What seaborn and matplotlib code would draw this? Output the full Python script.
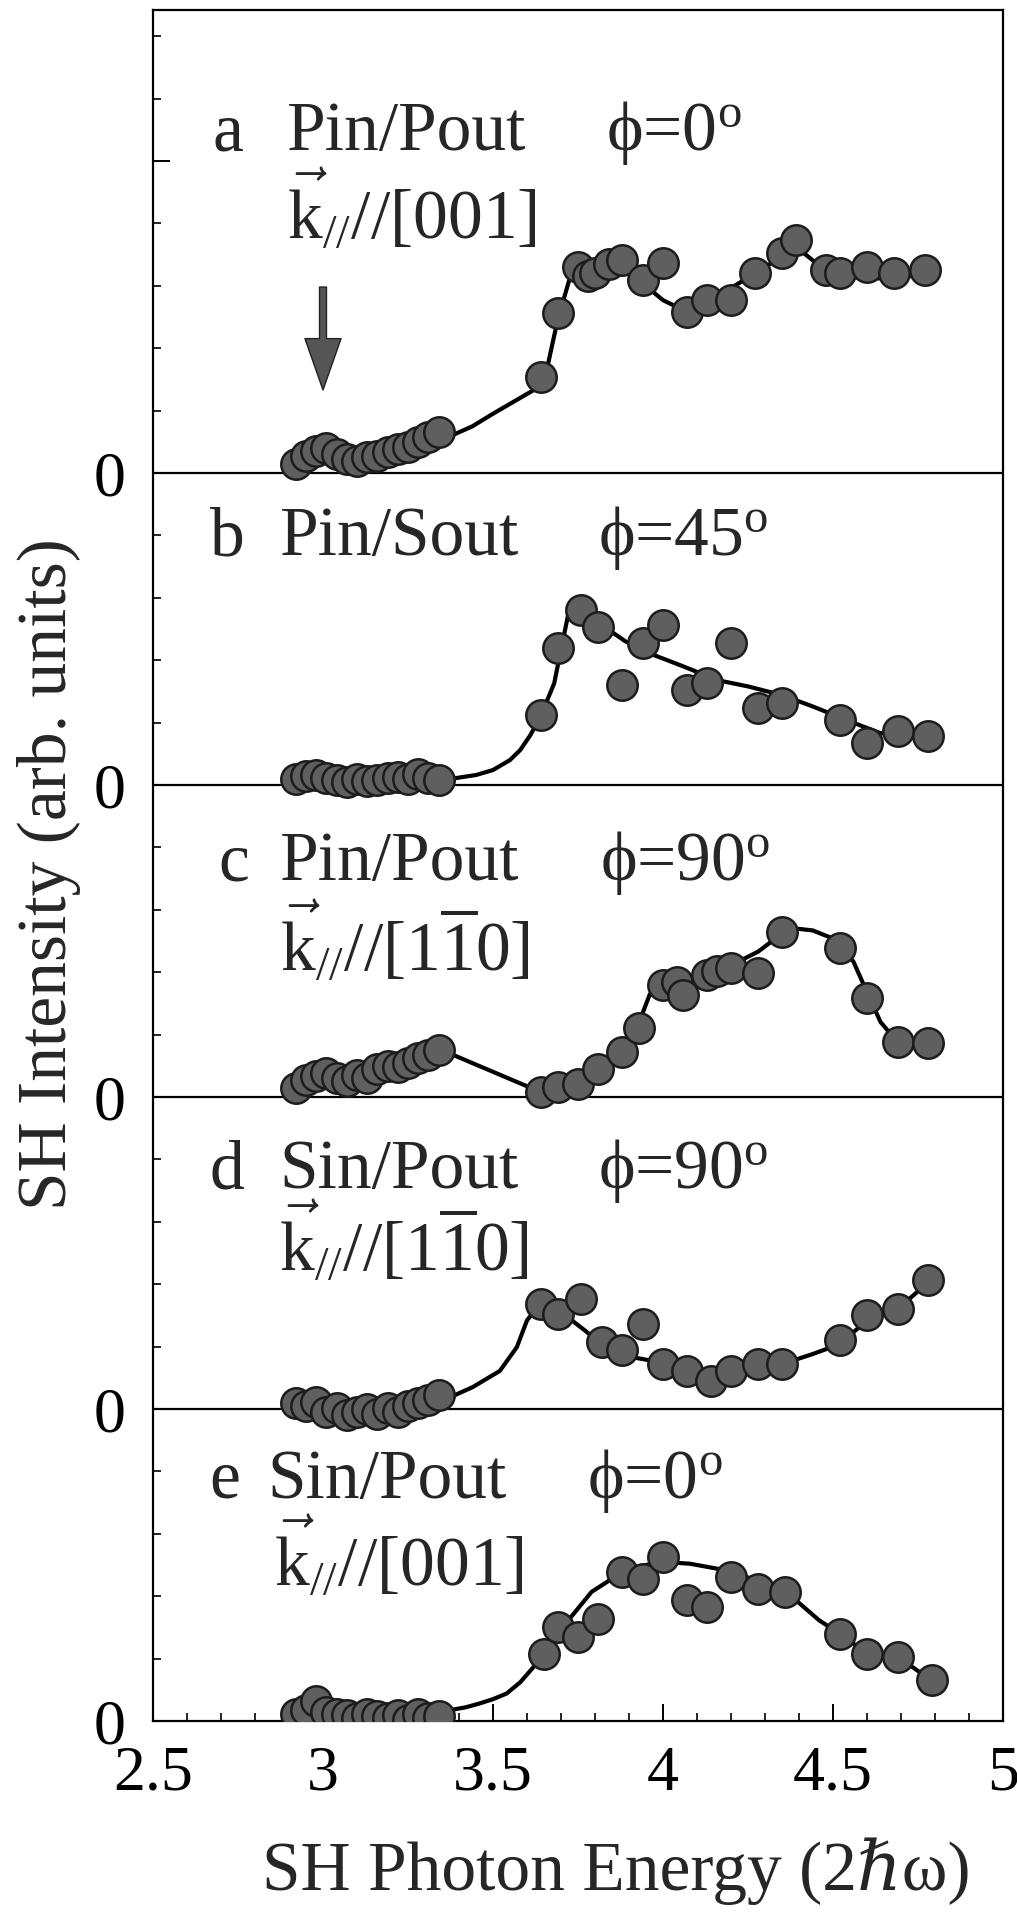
import numpy as np
import pandas as pd
import matplotlib
matplotlib.use("Agg")
import matplotlib.pyplot as plt
import seaborn as sns
from matplotlib.ticker import MultipleLocator, FixedLocator, FixedFormatter

# ---------------- data ----------------
x_low = [2.92, 2.95, 2.98, 3.01, 3.04, 3.07, 3.10, 3.13, 3.16, 3.19, 3.22, 3.25, 3.28, 3.31, 3.34]

a_low = [0.15, 0.28, 0.35, 0.40, 0.30, 0.22, 0.20, 0.25, 0.28, 0.33, 0.38, 0.42, 0.50, 0.58, 0.66]
b_low = [0.10, 0.14, 0.16, 0.12, 0.08, 0.05, 0.10, 0.06, 0.08, 0.11, 0.13, 0.10, 0.18, 0.12, 0.08]
c_low = [0.15, 0.28, 0.34, 0.38, 0.30, 0.26, 0.36, 0.30, 0.45, 0.50, 0.48, 0.55, 0.62, 0.68, 0.75]
d_low = [0.10, 0.05, 0.12, -0.05, 0.02, -0.10, -0.05, 0.00, -0.08, 0.02, -0.05, 0.05, 0.10, 0.15, 0.22]
e_low = [0.12, 0.18, 0.32, 0.15, 0.12, 0.10, 0.05, 0.12, 0.08, 0.05, 0.10, 0.02, 0.12, 0.05, 0.08]

a_hi_x = [3.64, 3.69, 3.75, 3.78, 3.80, 3.84, 3.88, 3.94, 4.00, 4.07, 4.13, 4.20, 4.27, 4.35, 4.39, 4.48, 4.52, 4.60, 4.68, 4.77]
a_hi_y = [1.54, 2.56, 3.30, 3.15, 3.20, 3.35, 3.41, 3.10, 3.36, 2.58, 2.77, 2.77, 3.20, 3.52, 3.73, 3.25, 3.20, 3.30, 3.20, 3.25]

b_hi_x = [3.64, 3.69, 3.76, 3.81, 3.88, 3.94, 4.00, 4.07, 4.13, 4.20, 4.28, 4.35, 4.52, 4.60, 4.69, 4.78]
b_hi_y = [1.12, 2.19, 2.81, 2.54, 1.60, 2.27, 2.57, 1.52, 1.63, 2.27, 1.23, 1.31, 1.04, 0.67, 0.86, 0.78]

c_hi_x = [3.64, 3.69, 3.75, 3.81, 3.88, 3.93, 4.00, 4.04, 4.06, 4.13, 4.16, 4.20, 4.28, 4.35, 4.52, 4.60, 4.69, 4.78]
c_hi_y = [0.08, 0.16, 0.21, 0.45, 0.72, 1.10, 1.79, 1.85, 1.63, 1.95, 2.02, 2.06, 1.98, 2.65, 2.38, 1.58, 0.88, 0.86]

d_hi_x = [3.64, 3.69, 3.76, 3.82, 3.88, 3.94, 4.00, 4.07, 4.14, 4.20, 4.28, 4.35, 4.52, 4.60, 4.69, 4.78]
d_hi_y = [1.68, 1.52, 1.76, 1.07, 0.94, 1.36, 0.72, 0.61, 0.45, 0.61, 0.72, 0.72, 1.10, 1.50, 1.60, 2.06]

e_hi_x = [3.65, 3.69, 3.75, 3.81, 3.88, 3.94, 4.00, 4.07, 4.13, 4.20, 4.28, 4.36, 4.52, 4.60, 4.69, 4.79]
e_hi_y = [1.08, 1.51, 1.35, 1.64, 2.39, 2.28, 2.63, 1.94, 1.83, 2.31, 2.12, 2.07, 1.40, 1.08, 1.03, 0.65]

# guide-to-the-eye curves
a_fit_x = [2.92, 3.10, 3.25, 3.37, 3.44, 3.50, 3.56, 3.62, 3.66, 3.69, 3.73, 3.77, 3.83, 3.89, 3.94, 4.00, 4.06, 4.13, 4.19, 4.27, 4.35, 4.39, 4.44, 4.50, 4.58, 4.69, 4.77]
a_fit_y = [0.15, 0.25, 0.40, 0.58, 0.75, 0.95, 1.14, 1.33, 1.70, 2.45, 3.20, 3.36, 3.41, 3.36, 3.04, 2.77, 2.61, 2.77, 2.93, 3.20, 3.47, 3.63, 3.41, 3.20, 3.12, 3.12, 3.20]

b_fit_x = [2.92, 3.20, 3.39, 3.45, 3.50, 3.55, 3.58, 3.61, 3.64, 3.68, 3.70, 3.72, 3.76, 3.81, 3.89, 3.96, 4.06, 4.16, 4.25, 4.35, 4.44, 4.54, 4.64, 4.69, 4.78]
b_fit_y = [0.10, 0.10, 0.11, 0.16, 0.24, 0.40, 0.56, 0.80, 1.10, 1.63, 2.17, 2.70, 2.86, 2.60, 2.30, 2.11, 1.90, 1.68, 1.58, 1.44, 1.26, 1.04, 0.83, 0.83, 0.78]

c_fit_x = [2.92, 3.10, 3.25, 3.35, 3.64, 3.69, 3.77, 3.83, 3.89, 3.93, 3.96, 3.99, 4.06, 4.13, 4.20, 4.28, 4.35, 4.39, 4.44, 4.50, 4.56, 4.60, 4.64, 4.69, 4.78]
c_fit_y = [0.15, 0.35, 0.55, 0.75, 0.08, 0.16, 0.29, 0.56, 0.88, 1.20, 1.63, 1.90, 1.84, 1.98, 2.11, 2.33, 2.62, 2.70, 2.67, 2.54, 2.17, 1.68, 1.20, 0.88, 0.86]

d_fit_x = [2.92, 3.20, 3.35, 3.44, 3.52, 3.57, 3.60, 3.63, 3.67, 3.72, 3.77, 3.83, 3.88, 3.96, 4.06, 4.14, 4.25, 4.35, 4.44, 4.52, 4.60, 4.69, 4.78]
d_fit_y = [0.05, 0.03, 0.13, 0.35, 0.61, 0.99, 1.42, 1.63, 1.60, 1.47, 1.26, 0.99, 0.86, 0.78, 0.67, 0.56, 0.67, 0.72, 0.88, 1.04, 1.42, 1.60, 2.03]

e_fit_x = [2.92, 3.20, 3.37, 3.42, 3.46, 3.50, 3.54, 3.58, 3.62, 3.68, 3.73, 3.79, 3.85, 3.92, 4.00, 4.08, 4.16, 4.23, 4.31, 4.39, 4.46, 4.52, 4.60, 4.69, 4.79]
e_fit_y = [0.10, 0.10, 0.17, 0.22, 0.28, 0.35, 0.44, 0.62, 0.87, 1.29, 1.67, 2.07, 2.28, 2.47, 2.55, 2.52, 2.44, 2.34, 2.18, 1.94, 1.61, 1.40, 1.08, 1.03, 0.65]

panel_letters = ["a", "b", "c", "d", "e"]
polarizations = ["Pin/Pout", "Pin/Sout", "Pin/Pout", "Sin/Pout", "Sin/Pout"]
phi_labels = [r"ϕ=0$^{\mathrm{o}}$", r"ϕ=45$^{\mathrm{o}}$", r"ϕ=90$^{\mathrm{o}}$",
              r"ϕ=90$^{\mathrm{o}}$", r"ϕ=0$^{\mathrm{o}}$"]
k_labels = [r"$\vec{\mathrm{k}}_{//}$//[001]", None,
            r"$\vec{\mathrm{k}}_{//}$//[1$\overline{1}$0]",
            r"$\vec{\mathrm{k}}_{//}$//[1$\overline{1}$0]",
            r"$\vec{\mathrm{k}}_{//}$//[001]"]
x_ticks = [2.5, 3.0, 3.5, 4.0, 4.5, 5.0]
x_tick_labels = ["2.5", "3", "3.5", "4", "4.5", "5"]
y_ticks = [0, 5, 10, 15, 20, 25]
y_tick_labels = ["0", "0", "0", "0", "0", ""]
arrow_energy = 3.0

# ---------------- assemble ----------------
offsets = {"a": 20, "b": 15, "c": 10, "d": 5, "e": 0}
lows = {"a": a_low, "b": b_low, "c": c_low, "d": d_low, "e": e_low}
his = {"a": (a_hi_x, a_hi_y), "b": (b_hi_x, b_hi_y), "c": (c_hi_x, c_hi_y),
       "d": (d_hi_x, d_hi_y), "e": (e_hi_x, e_hi_y)}
fits = {"a": (a_fit_x, a_fit_y), "b": (b_fit_x, b_fit_y), "c": (c_fit_x, c_fit_y),
        "d": (d_fit_x, d_fit_y), "e": (e_fit_x, e_fit_y)}

pts, crv = [], []
for p in panel_letters:
    xs = list(x_low) + list(his[p][0])
    ys = list(lows[p]) + list(his[p][1])
    for x, y in zip(xs, ys):
        pts.append({"panel": p, "energy": x, "shifted": y + offsets[p]})
    for x, y in zip(*fits[p]):
        crv.append({"panel": p, "energy": x, "shifted": y + offsets[p]})
pts = pd.DataFrame(pts)
crv = pd.DataFrame(crv)

# ---------------- style ----------------
sns.set_style("ticks")
plt.rcParams["font.family"] = ["Liberation Serif", "DejaVu Serif"]
plt.rcParams["mathtext.fontset"] = "custom"
plt.rcParams["mathtext.rm"] = "Liberation Serif"
plt.rcParams["mathtext.it"] = "Liberation Serif:italic"
plt.rcParams["mathtext.bf"] = "Liberation Serif:bold"

fig = plt.figure(figsize=(10.17, 19.16), dpi=100)
ax = fig.add_axes([153 / 1017, 1 - 1721 / 1916, 850 / 1017, 1711 / 1916])

ax.set_xlim(2.5, 5.0)
ax.set_ylim(0, 1711 / 62.4)

for p in panel_letters[:-1]:
    ax.axhline(offsets[p], color="black", lw=1.6, zorder=1)

sns.lineplot(data=crv, x="energy", y="shifted", units="panel", estimator=None,
             sort=False, color="black", lw=3.0, ax=ax, zorder=2, legend=False)
sns.scatterplot(data=pts, x="energy", y="shifted", ax=ax, s=480,
                color="#5f5f5f", edgecolor="#1c1c1c", linewidth=1.8,
                zorder=3, legend=False)

# arrow in panel a
ax.annotate("", xy=(arrow_energy, 21.33), xytext=(arrow_energy, 22.98),
            arrowprops=dict(arrowstyle="simple,head_length=37,head_width=26,tail_width=5",
                            mutation_scale=1, fc="#555555", ec="#222222", lw=1,
                            shrinkA=0, shrinkB=0), zorder=4)

# panel annotations (layout in pixels of the 1017x1916 canvas)
def px2data(px, py):
    return 2.5 + (px - 153) / 340.0, (1721 - py) / 62.4

text_layout = [
    # letter_x, pol_x, phi_x, k_x, line1_y, line2_y
    (213, 287, 606, 287, 150, 238),
    (210, 280, 598, None, 555, None),
    (218, 280, 600, 280, 880, 970),
    (209, 279, 598, 279, 1188, 1270),
    (209, 267, 587, 274, 1498, 1585),
]
fs = 50
for i, p in enumerate(panel_letters):
    lx, px_, phx, kx, y1, y2 = text_layout[i]
    for xx, s in ((lx, panel_letters[i]), (px_, polarizations[i]), (phx, phi_labels[i])):
        dx, dy = px2data(xx, y1)
        ax.text(dx, dy, s, fontsize=fs, ha="left", va="baseline", zorder=5)
    if k_labels[i] is not None:
        dx, dy = px2data(kx, y2)
        ax.text(dx, dy, k_labels[i], fontsize=fs, ha="left", va="baseline", zorder=5)

# ticks
ax.xaxis.set_major_locator(FixedLocator(x_ticks))
ax.xaxis.set_major_formatter(FixedFormatter(x_tick_labels))
ax.xaxis.set_minor_locator(MultipleLocator(0.1))
ax.yaxis.set_major_locator(FixedLocator(y_ticks))
ax.yaxis.set_major_formatter(FixedFormatter(y_tick_labels))
ax.yaxis.set_minor_locator(MultipleLocator(1))
ax.tick_params(axis="both", which="both", direction="in", top=False, right=False,
               colors="black")
ax.tick_params(axis="both", which="major", length=12, width=1.4, labelsize=46)
ax.tick_params(axis="both", which="minor", length=6, width=1.2)
ax.tick_params(axis="x", which="major", pad=18)
ax.tick_params(axis="y", which="major", pad=20)

for sp in ax.spines.values():
    sp.set_visible(True)
    sp.set_linewidth(1.6)
    sp.set_color("black")

ax.set_xlabel("SH Photon Energy (2ℏω)", fontsize=50)
ax.set_ylabel("SH Intensity (arb. units)", fontsize=50)
ax.xaxis.set_label_coords(0.545, -0.068)
ax.yaxis.set_label_coords(-0.085, 0.495)

fig.savefig("out.png", dpi=100)
